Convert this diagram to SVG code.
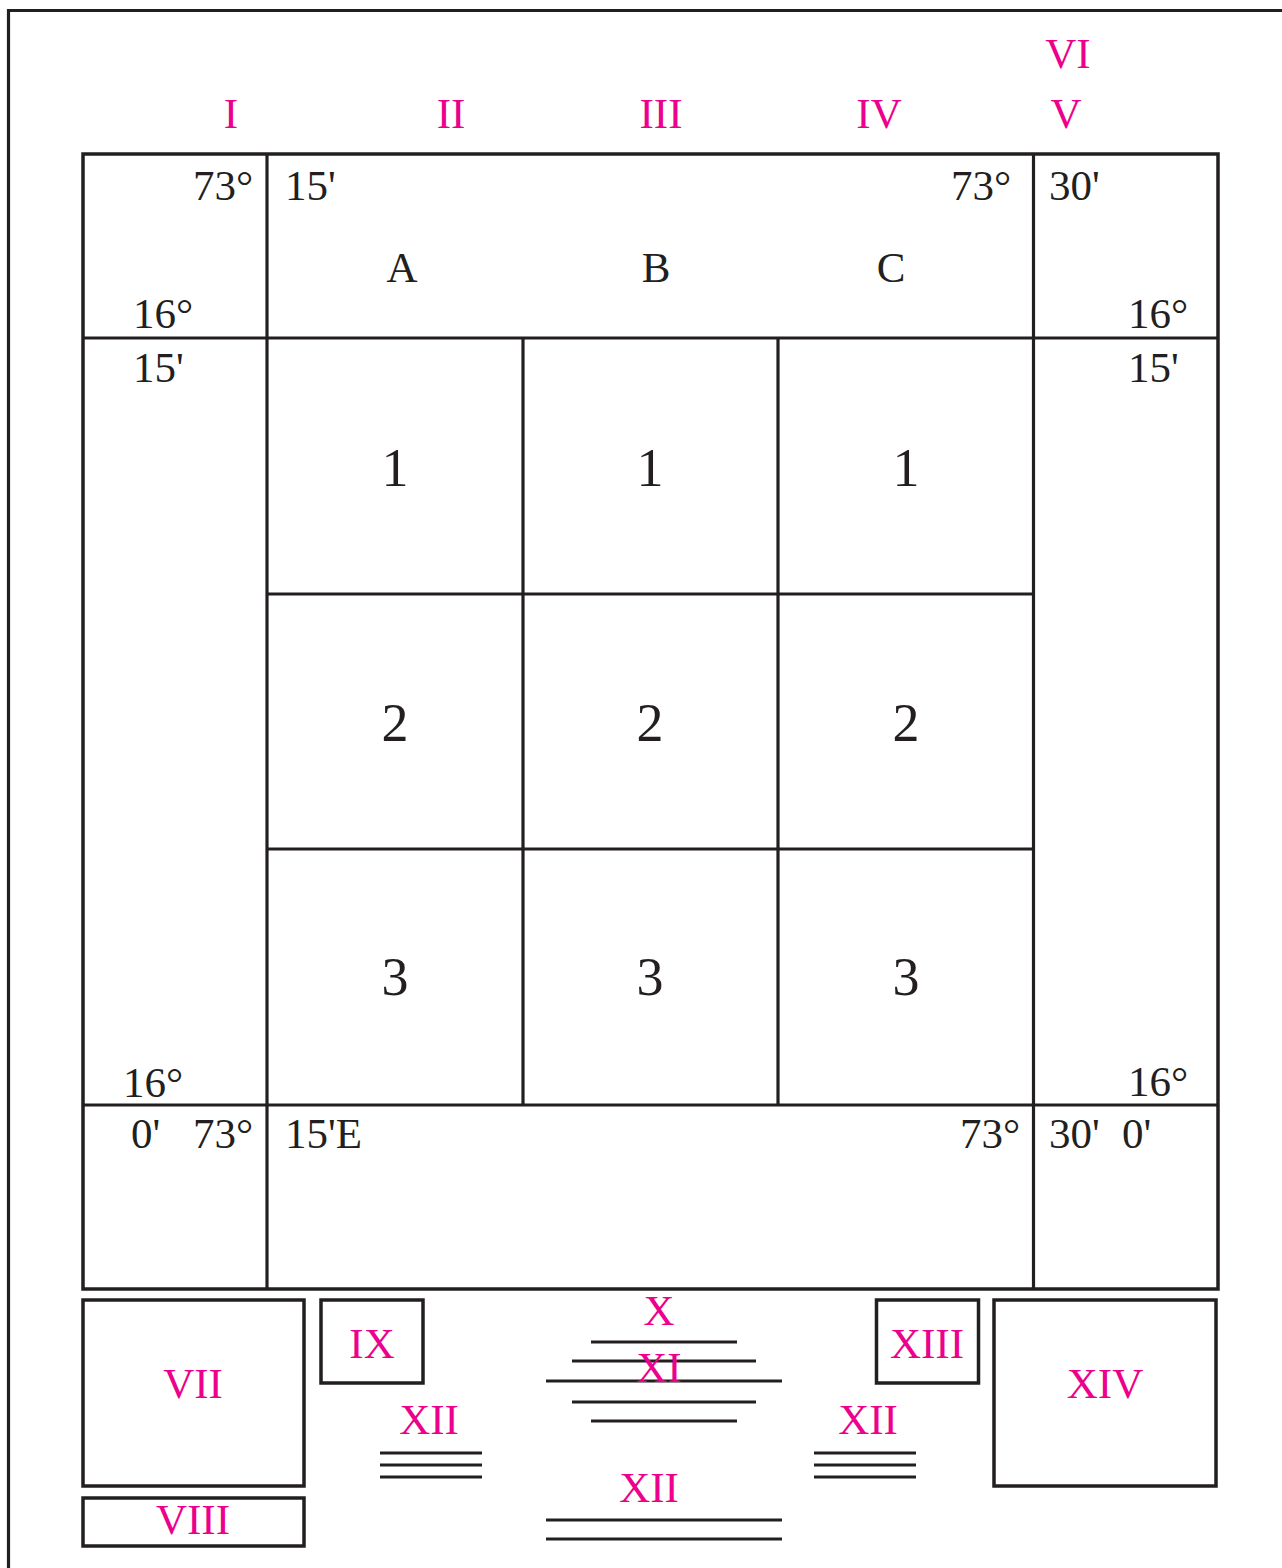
<svg xmlns="http://www.w3.org/2000/svg" width="1282" height="1568" viewBox="0 0 1282 1568">
<style>
.ln{stroke:#231F20;stroke-width:3.2;fill:none}
.bx{stroke:#231F20;stroke-width:3.5;fill:none}
.t{font-family:"Liberation Serif","Times New Roman",serif;font-size:43px;fill:#231F20}
.c{font-family:"Liberation Serif","Times New Roman",serif;font-size:43px;fill:#231F20;text-anchor:middle}
.n{font-family:"Liberation Serif","Times New Roman",serif;font-size:54px;fill:#231F20;text-anchor:middle}
.m{font-family:"Liberation Serif","Times New Roman",serif;font-size:43px;fill:#EC008C;text-anchor:middle}
</style>
<rect width="1282" height="1568" fill="#ffffff"/>
<path id="frame" class="ln" d="M8.5,1568 V10.5 H1282"/>

<g id="column-labels">
<text class="m" x="231" y="128">I</text>
<text class="m" x="451" y="128">II</text>
<text class="m" x="661" y="128">III</text>
<text class="m" x="879" y="128">IV</text>
<text class="m" x="1066" y="128">V</text>
<text class="m" x="1068" y="68">VI</text>
</g>

<g id="grid">
<rect class="bx" x="83" y="154" width="1135" height="1135"/>
<line class="ln" x1="267" y1="154" x2="267" y2="1289"/>
<line class="ln" x1="1033.5" y1="154" x2="1033.5" y2="1289"/>
<line class="ln" x1="83" y1="338" x2="1218" y2="338"/>
<line class="ln" x1="83" y1="1105" x2="1218" y2="1105"/>
<line class="ln" x1="523" y1="338" x2="523" y2="1105"/>
<line class="ln" x1="778" y1="338" x2="778" y2="1105"/>
<line class="ln" x1="267" y1="594" x2="1033.5" y2="594"/>
<line class="ln" x1="267" y1="849" x2="1033.5" y2="849"/>
</g>

<g id="corner-top-left">
<text class="t" x="193" y="200">73°</text>
<text class="t" x="133" y="328">16°</text>
</g>
<g id="header-band">
<text class="t" x="285" y="200">15'</text>
<text class="c" x="402" y="282">A</text>
<text class="c" x="656" y="282">B</text>
<text class="c" x="891" y="282">C</text>
<text class="t" x="951" y="200">73°</text>
</g>
<g id="corner-top-right">
<text class="t" x="1049" y="200">30'</text>
<text class="t" x="1128" y="328">16°</text>
</g>
<g id="left-column">
<text class="t" x="133" y="382">15'</text>
<text class="t" x="123" y="1097">16°</text>
</g>
<g id="right-column">
<text class="t" x="1128" y="382">15'</text>
<text class="t" x="1128" y="1096">16°</text>
</g>
<g id="corner-bottom-left">
<text class="t" x="131" y="1148">0'</text>
<text class="t" x="193" y="1148">73°</text>
</g>
<g id="footer-band">
<text class="t" x="285" y="1148">15'E</text>
<text class="t" x="960" y="1148">73°</text>
</g>
<g id="corner-bottom-right">
<text class="t" x="1049" y="1148">30'</text>
<text class="t" x="1122" y="1148">0'</text>
</g>

<g id="cell-A1"><text class="n" x="395" y="486">1</text></g>
<g id="cell-B1"><text class="n" x="650" y="486">1</text></g>
<g id="cell-C1"><text class="n" x="906" y="486">1</text></g>
<g id="cell-A2"><text class="n" x="395" y="741">2</text></g>
<g id="cell-B2"><text class="n" x="650" y="741">2</text></g>
<g id="cell-C2"><text class="n" x="906" y="741">2</text></g>
<g id="cell-A3"><text class="n" x="395" y="995">3</text></g>
<g id="cell-B3"><text class="n" x="650" y="995">3</text></g>
<g id="cell-C3"><text class="n" x="906" y="995">3</text></g>

<g id="box-VII">
<rect class="bx" x="83" y="1300" width="221" height="186"/>
<text class="m" x="193" y="1398">VII</text>
</g>
<g id="box-VIII">
<rect class="bx" x="83" y="1498" width="221" height="48"/>
<text class="m" x="193" y="1534">VIII</text>
</g>
<g id="box-IX">
<rect class="bx" x="321" y="1300" width="102" height="83"/>
<text class="m" x="372" y="1358">IX</text>
</g>
<g id="box-XIII">
<rect class="bx" x="876.5" y="1300" width="102" height="83"/>
<text class="m" x="927" y="1358">XIII</text>
</g>
<g id="box-XIV">
<rect class="bx" x="994" y="1300" width="222" height="186"/>
<text class="m" x="1105" y="1398">XIV</text>
</g>

<g id="bars-XII-left">
<line class="ln" x1="380" y1="1453" x2="482" y2="1453"/>
<line class="ln" x1="380" y1="1465" x2="482" y2="1465"/>
<line class="ln" x1="380" y1="1477" x2="482" y2="1477"/>
<text class="m" x="429" y="1434">XII</text>
</g>
<g id="bars-XII-right">
<line class="ln" x1="814" y1="1453" x2="916" y2="1453"/>
<line class="ln" x1="814" y1="1465" x2="916" y2="1465"/>
<line class="ln" x1="814" y1="1477" x2="916" y2="1477"/>
<text class="m" x="868" y="1434">XII</text>
</g>
<g id="bars-X-XI">
<line class="ln" x1="591" y1="1342" x2="737" y2="1342"/>
<line class="ln" x1="572" y1="1361" x2="756" y2="1361"/>
<line class="ln" x1="546" y1="1381" x2="782" y2="1381"/>
<line class="ln" x1="572" y1="1402" x2="756" y2="1402"/>
<line class="ln" x1="591" y1="1421" x2="737" y2="1421"/>
<text class="m" x="659" y="1325">X</text>
<text class="m" x="659" y="1382">XI</text>
</g>
<g id="bars-XII-bottom">
<line class="ln" x1="546" y1="1520" x2="782" y2="1520"/>
<line class="ln" x1="546" y1="1539" x2="782" y2="1539"/>
<text class="m" x="649" y="1502">XII</text>
</g>
</svg>
